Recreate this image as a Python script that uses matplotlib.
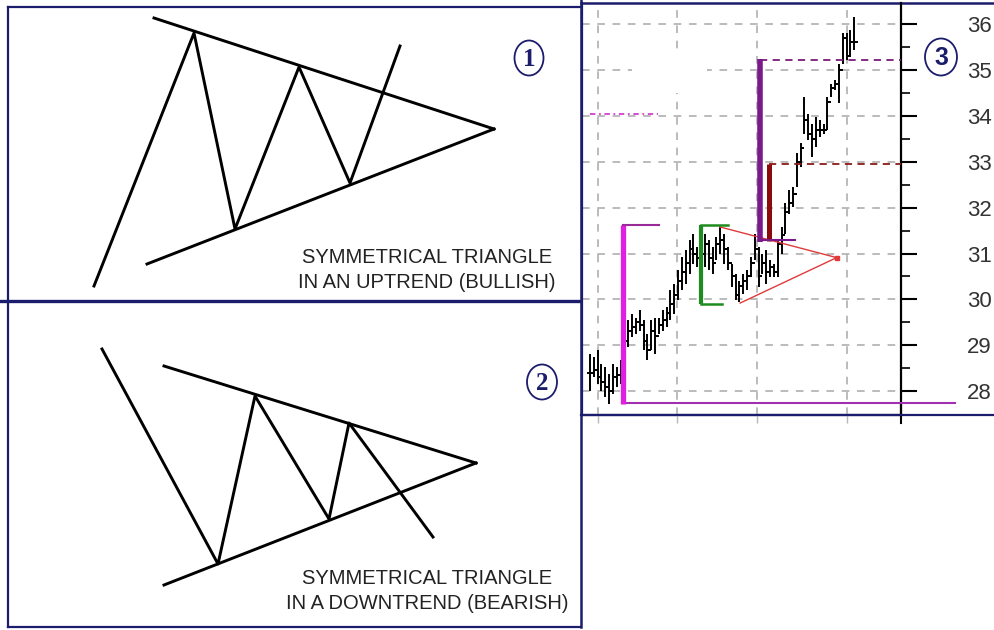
import matplotlib.pyplot as plt
import numpy as np
from matplotlib.patches import Ellipse, Rectangle

plt.rcParams['font.family'] = ['Liberation Sans', 'DejaVu Sans']

NAVY = '#1c1c6c'

# --- left sketches, vertices in picture pixels ---
up_zig_x = [94, 194, 235, 299, 350, 400]
up_zig_y = [286, 33, 229, 67, 183, 46]
up_top_x = [154, 494]
up_top_y = [18, 129]
up_bot_x = [147, 494]
up_bot_y = [264, 129]

dn_zig_x = [102, 218, 255, 329, 349, 433]
dn_zig_y = [349, 564, 396, 519, 423, 537]
dn_top_x = [164, 476]
dn_top_y = [366, 463]
dn_bot_x = [164, 476]
dn_bot_y = [585, 463]

up_text = "SYMMETRICAL TRIANGLE\nIN AN UPTREND (BULLISH)"
dn_text = "SYMMETRICAL TRIANGLE\nIN A DOWNTREND (BEARISH)"

# --- price chart (bar index, price) ---
highs = [28.81, 28.74, 28.89, 28.60, 28.52, 28.38, 28.60, 28.52, 28.67, 29.25,
         29.54, 29.69, 29.60, 29.76, 29.54, 29.25, 29.54, 29.60, 29.60, 29.76,
         29.83, 30.20, 30.34, 30.63, 30.92, 31.07, 31.29, 31.43, 31.14, 31.07,
         31.43, 31.29, 31.14, 31.36, 31.58, 31.43, 31.14, 30.78, 30.56, 30.41,
         30.56, 30.63, 30.92, 31.43, 31.14, 31.00, 31.07, 30.85, 30.78, 31.29,
         31.58, 32.09, 32.38, 32.45, 33.18, 33.40, 34.41, 34.05, 33.83, 33.98,
         33.90, 33.83, 34.41, 34.70, 34.78, 35.14, 35.80, 35.80, 35.87, 36.16]
lows = [28.01, 28.31, 28.16, 28.00, 27.87, 27.72, 27.94, 28.09, 28.16, 28.45,
        28.96, 29.18, 29.25, 29.32, 28.89, 28.67, 28.89, 28.81, 29.25, 29.32,
        29.40, 29.54, 29.69, 29.98, 30.20, 30.34, 30.56, 30.78, 30.70, 30.78,
        30.70, 30.63, 30.56, 30.85, 31.00, 30.78, 30.63, 30.27, 29.98, 29.94,
        30.12, 30.20, 30.49, 30.85, 30.27, 30.56, 30.34, 30.49, 30.49, 30.49,
        31.00, 31.43, 31.87, 32.01, 32.45, 32.89, 33.61, 33.47, 33.11, 33.32,
        33.54, 33.61, 33.69, 34.41, 34.56, 34.27, 35.14, 35.21, 35.29, 35.43]
closes = [28.40, 28.45, 28.30, 28.20, 28.10, 28.00, 28.30, 28.35, 28.45, 29.10,
          29.30, 29.40, 29.50, 29.45, 29.10, 28.90, 29.30, 29.20, 29.45, 29.55,
          29.70, 29.90, 30.10, 30.40, 30.60, 30.80, 31.10, 31.00, 30.90, 31.00,
          31.20, 30.90, 30.80, 31.20, 31.30, 31.10, 30.80, 30.50, 30.10, 30.30,
          30.40, 30.50, 30.80, 31.10, 30.50, 30.80, 30.60, 30.70, 30.60, 31.20,
          31.40, 31.90, 32.10, 32.30, 33.00, 33.30, 33.90, 33.60, 33.50, 33.70,
          33.70, 33.70, 34.30, 34.60, 34.70, 35.00, 35.70, 35.30, 35.60, 35.60]
opens = [closes[0]] + closes[:-1]

price_ticks = [28, 29, 30, 31, 32, 33, 34, 35, 36]
price_minor = [28.5, 29.5, 30.5, 31.5, 32.5, 33.5, 34.5, 35.5]
date_grid = [2.2, 22.6, 43.5, 67.0]

fig = plt.figure(figsize=(9.95, 6.3), dpi=100)
fig.patch.set_facecolor('white')

# full-page layer for the sketches and frames
ax0 = fig.add_axes([0, 0, 1, 1])
ax0.set_xlim(0, 995)
ax0.set_ylim(630, 0)
ax0.axis('off')

ax0.plot(up_zig_x, up_zig_y, color='black', lw=2.1)
ax0.plot(up_top_x, up_top_y, color='black', lw=2.1)
ax0.plot(up_bot_x, up_bot_y, color='black', lw=2.1)
ax0.plot(dn_zig_x, dn_zig_y, color='black', lw=2.1)
ax0.plot(dn_top_x, dn_top_y, color='black', lw=2.1)
ax0.plot(dn_bot_x, dn_bot_y, color='black', lw=2.1)

ax0.text(427, 270, up_text, ha='center', va='center', fontsize=14.5,
         color='#222222', linespacing=1.45)
ax0.text(427, 591, dn_text, ha='center', va='center', fontsize=14.5,
         color='#222222', linespacing=1.35)

# frames
ax0.plot([7.5, 580], [7, 7], color=NAVY, lw=1.6)
ax0.plot([7.5, 7.5], [7, 627], color=NAVY, lw=1.6)
ax0.plot([0, 580], [301, 301], color=NAVY, lw=2.4)
ax0.plot([7.5, 580], [627, 627], color=NAVY, lw=1.6)
ax0.plot([581, 581], [0, 627], color=NAVY, lw=1.8)
ax0.plot([581, 995], [3, 3], color=NAVY, lw=1.8)
ax0.plot([581, 995], [414.5, 414.5], color=NAVY, lw=1.6)
ax0.plot([901, 901], [405, 423], color='black', lw=1.5)

# circled numbers
for (cx, cy, w, h, lab, fam) in [(529, 58, 29, 35, '1', 'Liberation Serif'),
                                 (542, 382, 30, 35, '2', 'Liberation Serif'),
                                 (941, 57, 32, 37, '3', 'Liberation Sans')]:
    ax0.add_patch(Ellipse((cx, cy), w, h, fill=False, ec=NAVY, lw=1.3))
    ax0.text(cx, cy + 1, lab, ha='center', va='center', fontsize=18,
             fontweight='bold', color=NAVY, family=fam)

# --- price chart ---
ax = fig.add_axes([582 / 995, (630 - 415) / 630, (901 - 582) / 995, (415 - 3) / 630])
ax.set_facecolor('none')
ax.set_xlim(-2.09, 81.2)
ax.set_ylim(27.48, 36.46)

idx = np.arange(len(highs))
ax.vlines(idx, lows, highs, color='black', lw=1.4, zorder=3)
ax.hlines(opens, idx - 0.85, idx, color='black', lw=1.4, zorder=3)
ax.hlines(closes, idx, idx + 0.85, color='black', lw=1.4, zorder=3)

ax.yaxis.tick_right()
ax.set_yticks(price_ticks)
ax.set_yticks(price_minor, minor=True)
ax.tick_params(axis='y', which='major', length=11.7, width=1.5, pad=36,
               labelsize=16, labelcolor='#333333', color='black')
ax.tick_params(axis='y', which='minor', length=6.5, width=1.2, color='black')
ax.set_xticks(date_grid)
ax.set_xticklabels([])
ax.tick_params(axis='x', length=6, width=1, color='#b8b8b8', direction='out')
ax.grid(True, color='#a8a8a8', linestyle=(0, (5, 5)), lw=1.1)

ax.spines['top'].set_visible(False)
ax.spines['left'].set_color(NAVY)
ax.spines['bottom'].set_color(NAVY)
ax.spines['right'].set_color('black')
for s in ['left', 'bottom', 'right']:
    ax.spines[s].set_linewidth(1.6)

# blank label area
ax.add_patch(Rectangle((11, 34.5), 19.5, 0.9, fc='white', ec='none', zorder=1.6))

# annotations
ax.plot([0, 17.8], [34.05, 34.05], color='#d040d0', lw=1.3, ls=(0, (3, 2, 1, 2)), zorder=4)
ax.plot([8.6, 95.3], [27.75, 27.75], color='#a030b0', lw=1.5, clip_on=False, zorder=4)
ax.plot([8.6, 8.6], [27.72, 31.63], color='#e020e0', lw=3.8, solid_capstyle='butt', zorder=5)
ax.plot([8.6, 18.0], [31.63, 31.63], color='#9a2a9a', lw=1.5, zorder=5)

ax.plot([28.9, 28.9], [29.89, 31.63], color='#1e8c1e', lw=3, solid_capstyle='butt', zorder=5)
ax.plot([28.9, 36.0], [31.63, 31.63], color='#1e8c1e', lw=1.8, zorder=5)
ax.plot([28.9, 34.5], [29.89, 29.89], color='#1e8c1e', lw=1.8, zorder=5)

ax.plot([33.9, 64.4, 39.2], [31.58, 30.91, 29.92], color='#e03a3a', lw=1.0, zorder=4)
ax.plot([64.4], [30.91], 's', color='#e03a3a', ms=2.5, zorder=4)

ax.plot([44.4, 44.4], [31.25, 35.25], color='#7a1a8a', lw=4, solid_capstyle='butt', zorder=5)
ax.plot([44.4, 81.2], [35.21, 35.21], color='#7a1a7a', lw=1.3, ls=(0, (4, 3)), zorder=4)
ax.plot([46.8, 46.8], [31.27, 32.94], color='#8b0a0a', lw=3.6, solid_capstyle='butt', zorder=5)
ax.plot([46.8, 81.2], [32.94, 32.94], color='#8b1a1a', lw=1.3, ls=(0, (4, 3)), zorder=4)
ax.plot([44.4, 53.5], [31.3, 31.3], color='#7a1a8a', lw=1.5, zorder=5)

fig.savefig('out.png', dpi=100)
